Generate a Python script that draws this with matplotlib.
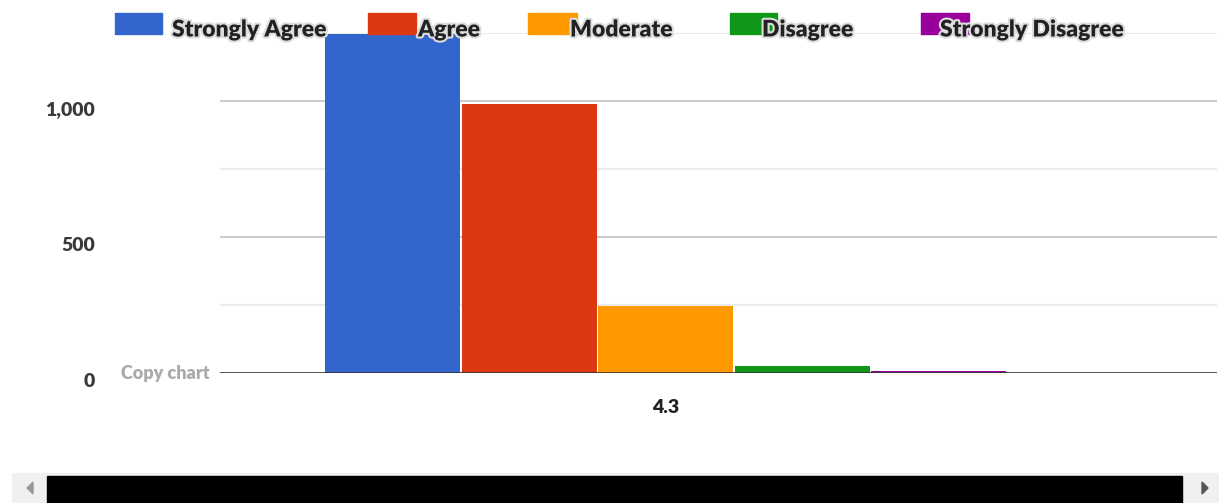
import matplotlib
matplotlib.use('Agg')
import matplotlib.pyplot as plt
import matplotlib.patheffects as pe
import matplotlib.transforms as mtransforms
from matplotlib.patches import Rectangle, Polygon

categories = ['4.3']
series = ['Strongly Agree', 'Agree', 'Moderate', 'Disagree', 'Strongly Disagree']
values = [1246, 989, 246, 24, 9]
colors = ['#3366cc', '#dc3912', '#ff9900', '#109618', '#990099']
yticks = [0, 500, 1000]
ytick_labels = ['0', '500', '1,000']

FONT = ['Lato', 'DejaVu Sans']
W, H = 1219, 503

fig = plt.figure(figsize=(W / 100, H / 100), dpi=100)
ax = fig.add_axes([220 / W, (H - 373) / H, (1217 - 220) / W, (373 - 33) / H])

# bars: 5 series side by side around one category, small white gap between them
bw = 0.137
n = len(series)
for i, (s, v, c) in enumerate(zip(series, values, colors)):
    x = (i - (n - 1) / 2) * bw
    ax.bar(x, v, width=bw - 0.0015, color=c, linewidth=0, zorder=3)

ax.set_xlim(-0.447, 0.553)
ax.set_ylim(0, 1250)

# gridlines
for g in [250, 750, 1250]:
    ax.axhline(g, color='#ebebeb', linewidth=1.5, zorder=1)
for g in [500, 1000]:
    ax.axhline(g, color='#cccccc', linewidth=1.5, zorder=1)
ax.axhline(0, color='#333333', linewidth=1.9, zorder=4)

for sp in ax.spines.values():
    sp.set_visible(False)
ax.tick_params(axis='x', length=0, pad=19)
ax.tick_params(axis='y', length=0, pad=90)
ax.set_xticks([0])
ax.set_xticklabels(categories)
ax.set_yticks(yticks)
ax.set_yticklabels(ytick_labels)
for lab in ax.get_xticklabels():
    lab.set_fontproperties({'family': FONT, 'weight': 'heavy', 'size': 14})
    lab.set_color('#222222')
shift = mtransforms.ScaledTranslation(0, -7 / 100, fig.dpi_scale_trans)
for lab in ax.get_yticklabels():
    lab.set_fontproperties({'family': FONT, 'weight': 'heavy', 'size': 14})
    lab.set_color('#3a3a3a')
    lab.set_transform(lab.get_transform() + shift)

fig.text(210 / W, 1 - 373 / H, 'Copy chart', fontsize=13, fontweight='heavy',
         color='#aaaaaa', va='center', ha='right', family=FONT)

# legend across the top
sq = [(115, 162), (368, 416), (528, 577), (730, 777), (921, 969)]
tx = [172, 418, 570, 762, 940]
halo = [pe.withStroke(linewidth=3, foreground='#dddddd')]
for (x0, x1), t, s, c in zip(sq, tx, series, colors):
    fig.patches.append(Rectangle((x0 / W, 1 - 34 / H), (x1 - x0) / W, 21 / H,
                                 transform=fig.transFigure, color=c, zorder=5))
    fig.text(t / W, 1 - 30 / H, s, fontsize=16.5, fontweight='heavy', color='#222222',
             va='center', ha='left', family=FONT, path_effects=halo, zorder=6)

# scrollbar strip at the bottom
fig.patches.append(Rectangle((12 / W, 0), (W - 12) / W, 30 / H, transform=fig.transFigure,
                             color='#f0f0f0', zorder=1))
fig.patches.append(Rectangle((47 / W, 0), (1182 - 47) / W, 27 / H, transform=fig.transFigure,
                             color='black', zorder=2))
fig.patches.append(Polygon([(27 / W, 1 - 488 / H), (33 / W, 1 - 482 / H), (33 / W, 1 - 494 / H)],
                           closed=True, transform=fig.transFigure, color='#999999', zorder=2))
fig.patches.append(Polygon([(1208 / W, 1 - 488 / H), (1202 / W, 1 - 482 / H), (1202 / W, 1 - 494 / H)],
                           closed=True, transform=fig.transFigure, color='#555555', zorder=2))

fig.savefig('out.png', dpi=100)
